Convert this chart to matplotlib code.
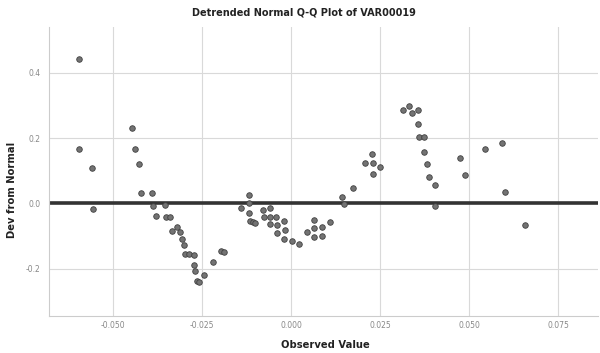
import matplotlib
matplotlib.use("Agg")
import matplotlib.pyplot as plt

observed = [
    -0.0597, -0.0596, -0.0560, -0.0557, -0.0447, -0.0438, -0.0427, -0.0422,
    -0.0391, -0.0388, -0.0379, -0.0354, -0.0351, -0.0340, -0.0335, -0.0321,
    -0.0314, -0.0307, -0.0301, -0.0298, -0.0288, -0.0274, -0.0274, -0.0270,
    -0.0265, -0.0258, -0.0244, -0.0221, -0.0197, -0.0190,
    -0.0140, -0.0120, -0.0120, -0.0120, -0.0115, -0.0108, -0.0101, -0.0080,
    -0.0059, -0.0078, -0.0059, -0.0043, -0.0059, -0.0040, -0.0020, -0.0040,
    -0.0019, -0.0020, 0.0002, 0.0022, 0.0044, 0.0065, 0.0065, 0.0065,
    0.0086, 0.0086, 0.0110, 0.0142, 0.0147, 0.0172, 0.0206, 0.0227,
    0.0230, 0.0230, 0.0250, 0.0314, 0.0330, 0.0339, 0.0355, 0.0355,
    0.0358, 0.0372, 0.0374, 0.0381, 0.0388, 0.0403, 0.0405, 0.0475,
    0.0487, 0.0545, 0.0592, 0.0599, 0.0655,
]
dev_from_normal = [
    0.441, 0.167, 0.109, -0.017, 0.232, 0.166, 0.120, 0.031,
    0.032, -0.007, -0.038, -0.005, -0.043, -0.043, -0.084, -0.074,
    -0.089, -0.109, -0.128, -0.155, -0.155, -0.158, -0.189, -0.207,
    -0.237, -0.240, -0.220, -0.181, -0.145, -0.150,
    -0.015, 0.025, 0.002, -0.031, -0.054, -0.056, -0.061, -0.021,
    -0.015, -0.043, -0.041, -0.043, -0.064, -0.066, -0.054, -0.090,
    -0.082, -0.109, -0.115, -0.125, -0.087, -0.051, -0.075, -0.104,
    -0.072, -0.099, -0.058, 0.018, -0.002, 0.046, 0.123, 0.150,
    0.123, 0.090, 0.112, 0.286, 0.298, 0.277, 0.286, 0.242,
    0.204, 0.202, 0.156, 0.120, 0.081, 0.056, -0.007, 0.140,
    0.087, 0.166, 0.186, 0.036, -0.066,
]
x_ticks = [-0.050, -0.025, 0.000, 0.025, 0.050, 0.075]
x_tick_labels = ["-0.050", "-0.025", "0.000", "0.025", "0.050", "0.075"]
y_ticks = [-0.2, 0.0, 0.2, 0.4]
y_tick_labels = ["-0.2", "0.0", "0.2", "0.4"]

fig = plt.figure(figsize=(6, 3.53), dpi=100)
ax = fig.add_axes([0.082, 0.105, 0.915, 0.8185])

ax.set_xlim(-0.068, 0.0862)
ax.set_ylim(-0.345, 0.54)

ax.grid(True, color="#d9d9d9", linewidth=0.8)
ax.set_axisbelow(True)
ax.axhline(0, color="#333333", linewidth=2.6, zorder=2)

ax.scatter(observed, dev_from_normal, s=16, facecolor="#737373",
           edgecolor="#404040", linewidth=0.6, zorder=3)

ax.set_xticks(x_ticks)
ax.set_xticklabels(x_tick_labels)
ax.set_yticks(y_ticks)
ax.set_yticklabels(y_tick_labels)
ax.tick_params(axis="x", length=0, labelsize=5.5, labelcolor="#888888", pad=4)
ax.tick_params(axis="y", length=0, labelsize=5.5, labelcolor="#888888", pad=6)

for side in ["top", "right"]:
    ax.spines[side].set_visible(False)
for side in ["left", "bottom"]:
    ax.spines[side].set_color("#cccccc")
    ax.spines[side].set_linewidth(0.8)

ax.set_title("Detrended Normal Q-Q Plot of VAR00019", fontsize=7,
             fontweight="bold", color="#222222", x=0.464, pad=8)
ax.set_xlabel("Observed Value", fontsize=7.2, fontweight="bold",
              color="#222222")
ax.xaxis.set_label_coords(0.503, -0.082)
ax.set_ylabel("Dev from Normal", fontsize=7.2, fontweight="bold",
              color="#222222")
ax.yaxis.set_label_coords(-0.058, 0.436)

fig.savefig("out.png", dpi=100)
